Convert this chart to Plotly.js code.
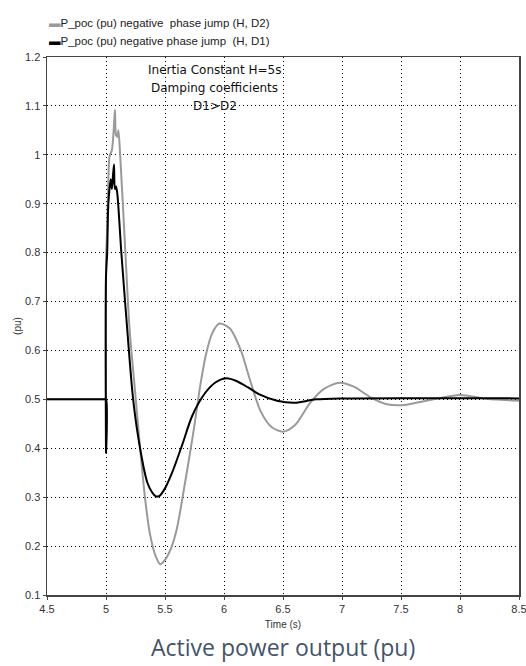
<!DOCTYPE html>
<html>
<head>
<meta charset="utf-8">
<script src="https://cdn.plot.ly/plotly-3.0.1.min.js"></script>
<style>html,body{margin:0;padding:0;background:#fff;}#chart{width:526px;height:666px;}</style>
</head>
<body>
<div id="chart"></div>
<script>
// Time axis (s) and active power (pu)
var timeD2 = [4.5, 4.99, 5.0, 5.0, 5.0, 5.01, 5.02, 5.03, 5.05, 5.065, 5.076, 5.085, 5.096, 5.105, 5.12, 5.16, 5.2, 5.245, 5.29, 5.33, 5.37, 5.42, 5.46, 5.5, 5.55, 5.6, 5.67, 5.74, 5.8, 5.85, 5.9, 5.96, 6.05, 6.14, 6.22, 6.31, 6.4, 6.5, 6.6, 6.73, 6.85, 6.98, 7.1, 7.25, 7.38, 7.51, 7.65, 7.8, 8.0, 8.2, 8.35, 8.5];
var powerD2 = [0.5, 0.5, 0.5, 0.39, 0.78, 0.85, 0.95, 0.997, 1.01, 1.05, 1.092, 1.04, 1.037, 1.05, 1.0, 0.82, 0.643, 0.52, 0.398, 0.3, 0.228, 0.18, 0.163, 0.172, 0.195, 0.235, 0.33, 0.432, 0.53, 0.595, 0.635, 0.655, 0.645, 0.602, 0.54, 0.476, 0.444, 0.434, 0.447, 0.493, 0.522, 0.534, 0.526, 0.503, 0.49, 0.488, 0.494, 0.501, 0.509, 0.502, 0.499, 0.497];

var timeD1 = [4.5, 4.99, 5.0, 5.0, 5.0, 5.01, 5.02, 5.04, 5.05, 5.06, 5.068, 5.075, 5.085, 5.096, 5.13, 5.18, 5.23, 5.29, 5.35, 5.39, 5.42, 5.45, 5.5, 5.56, 5.65, 5.73, 5.84, 5.93, 6.02, 6.1, 6.2, 6.3, 6.45, 6.6, 6.78, 7.0, 8.5];
var powerD1 = [0.5, 0.5, 0.5, 0.39, 0.75, 0.80, 0.9, 0.95, 0.93, 0.96, 0.98, 0.93, 0.935, 0.92, 0.80, 0.643, 0.50, 0.398, 0.33, 0.31, 0.302, 0.302, 0.318, 0.35, 0.41, 0.466, 0.513, 0.535, 0.543, 0.538, 0.525, 0.51, 0.497, 0.493, 0.50, 0.502, 0.502];

var seriesNames = ["P_poc (pu) negative  phase jump (H, D2)", "P_poc (pu) negative phase jump  (H, D1)"];
var xTicks = [4.5, 5, 5.5, 6, 6.5, 7, 7.5, 8, 8.5];
var yTicks = [0.1, 0.2, 0.3, 0.4, 0.5, 0.6, 0.7, 0.8, 0.9, 1, 1.1, 1.2];
var noteLines = ["Inertia Constant H=5s", "Damping coefficients", "D1>D2"];
var caption = "Active power output (pu)";

var traces = [
  {x: timeD2, y: powerD2, mode: "lines", name: seriesNames[0], line: {color: "#9a9a9a", width: 2, shape: "spline", smoothing: 0.8}},
  {x: timeD1, y: powerD1, mode: "lines", name: seriesNames[1], line: {color: "#000000", width: 2, shape: "spline", smoothing: 0.8}}
];

var tickFont = {family: "Liberation Sans, Arial, sans-serif", size: 11, color: "#333"};
var noteFont = {family: "DejaVu Sans, sans-serif", size: 12, color: "#111"};

var annotations = [
  {xref: "paper", yref: "paper", x: 0.0, y: 1 + 34.3/538, xanchor: "left", yanchor: "middle", showarrow: false,
   text: "<span style='color:#9a9a9a'>▬</span>" + seriesNames[0], font: {family: "Liberation Sans, Arial, sans-serif", size: 11.5, color: "#222"}},
  {xref: "paper", yref: "paper", x: 0.0, y: 1 + 16/538, xanchor: "left", yanchor: "middle", showarrow: false,
   text: "<span style='color:#000'>▬</span>" + seriesNames[1], font: {family: "Liberation Sans, Arial, sans-serif", size: 11.5, color: "#222"}},
  {xref: "paper", yref: "paper", x: 0.5, y: -(70/538), xanchor: "center", yanchor: "bottom", showarrow: false,
   text: caption, font: {family: "Open Sans, sans-serif", size: 23, color: "#44546a"}}
];
noteLines.forEach(function (line, i) {
  annotations.push({xref: "x", yref: "paper", x: 5.92, y: 1 - (13 + 18 * i)/538, xanchor: "center", yanchor: "middle",
    showarrow: false, text: line, font: noteFont});
});

var layout = {
  width: 526, height: 666,
  margin: {l: 47, r: 7, t: 57, b: 71},
  paper_bgcolor: "#fff", plot_bgcolor: "#fff",
  showlegend: false,
  font: tickFont,
  xaxis: {
    range: [4.5, 8.5], tickvals: xTicks, ticktext: xTicks.map(String), ticklabeloverflow: "allow",
    showgrid: true, gridcolor: "#000", griddash: "1px,3px", gridwidth: 1,
    zeroline: false, showline: true, linecolor: "#444", linewidth: 1.5, mirror: true,
    ticks: "outside", ticklen: 3, tickcolor: "#444", tickfont: tickFont,
    title: {text: "Time (s)", font: {family: "Liberation Sans, Arial, sans-serif", size: 10, color: "#333"}, standoff: 7}
  },
  yaxis: {
    range: [0.1, 1.2], tickvals: yTicks, ticktext: yTicks.map(String),
    showgrid: true, gridcolor: "#000", griddash: "1px,3px", gridwidth: 1,
    zeroline: false, showline: true, linecolor: "#444", linewidth: 1.5, mirror: true,
    ticks: "outside", ticklen: 3, tickcolor: "#444", tickfont: tickFont,
    title: {text: "(pu)", font: {family: "Liberation Sans, Arial, sans-serif", size: 10, color: "#333"}, standoff: 1}
  },
  annotations: annotations
};

Plotly.newPlot("chart", traces, layout, {displayModeBar: false, staticPlot: true});
</script>
</body>
</html>
